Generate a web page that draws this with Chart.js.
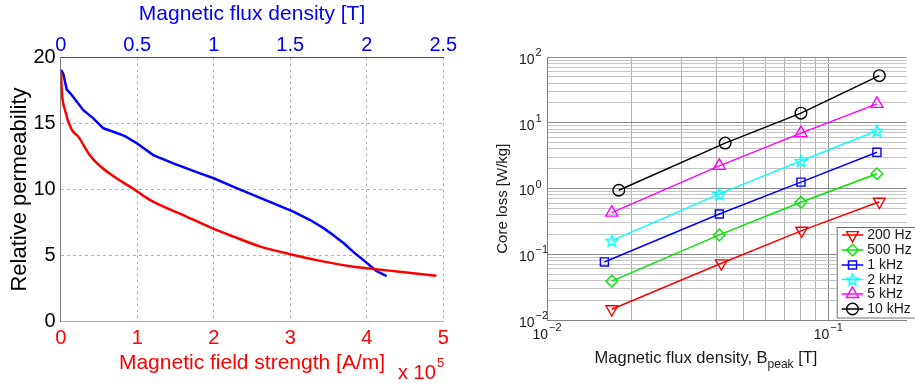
<!DOCTYPE html>
<html>
<head>
<meta charset="utf-8">
<script src="https://cdn.jsdelivr.net/npm/chart.js@4.4.0/dist/chart.umd.min.js"></script>
<style>
  html, body { margin: 0; padding: 0; background: #fff; }
  #wrap { position: relative; width: 915px; height: 384px; overflow: hidden; }
  #permChart { position: absolute; left: 0; top: 0; }
  #lossChart { position: absolute; left: 460px; top: 0; }
</style>
</head>
<body>
<div id="wrap">
  <canvas id="permChart" width="460" height="384"></canvas>
  <canvas id="lossChart" width="455" height="384"></canvas>
</div>
<script>
// ---- left plot: relative permeability vs H (bottom axis, x1e5) and vs B (top axis)
const fieldStrength = [0.004, 0.013, 0.057, 0.14, 0.23, 0.38, 0.51, 0.69, 0.95, 1.17, 1.6, 2.0, 2.26, 2.6, 3.0, 3.39, 3.78, 4.0, 4.43, 4.91];
const permVsField = [18.9, 17.55, 16.0, 14.57, 14.0, 12.6, 11.8, 11.0, 10.05, 9.2, 8.07, 7.02, 6.43, 5.7, 5.1, 4.6, 4.2, 4.05, 3.78, 3.48];

const fluxDensity = [0.002, 0.017, 0.039, 0.072, 0.148, 0.213, 0.279, 0.344, 0.42, 0.497, 0.605, 0.736, 0.823, 0.91, 1.0, 1.13, 1.26, 1.39, 1.52, 1.63, 1.72, 1.78, 1.85, 1.91, 2.0, 2.06, 2.13];
const permVsFlux = [19.05, 18.74, 17.58, 17.15, 16.0, 15.38, 14.63, 14.37, 14.04, 13.5, 12.6, 11.97, 11.6, 11.22, 10.85, 10.2, 9.58, 8.95, 8.32, 7.69, 7.06, 6.56, 5.93, 5.30, 4.45, 3.85, 3.45];

// ---- right plot: core loss vs peak flux density, one series per frequency
const freqLabels = ['200 Hz', '500 Hz', '1 kHz', '2 kHz', '5 kHz', '10 kHz'];
const bPeak200 = [0.0170, 0.0417, 0.0805, 0.1520];
const bPeakMid = [0.0170, 0.0410, 0.0800, 0.1490];
const bPeak1k = [0.0160, 0.0410, 0.0800, 0.1490];
const bPeak10k = [0.0180, 0.0430, 0.0800, 0.1520];
const loss200 = [0.0146, 0.073, 0.229, 0.63];
const loss500 = [0.039, 0.197, 0.618, 1.68];
const loss1k = [0.0764, 0.41, 1.25, 3.55];
const loss2k = [0.161, 0.83, 2.63, 7.55];
const loss5k = [0.43, 2.21, 6.95, 19.4];
const loss10k = [0.94, 4.9, 14.0, 52];

// log axis tick marks
const yDecades = [-2, -1, 0, 1, 2];
const xDecades = [-2, -1];
const mantissas = [1, 2, 3, 4, 5, 6, 7, 8, 9];

Chart.defaults.font.family = "'Liberation Sans', Arial, sans-serif";

const clear = 'rgba(0,0,0,0)';

// draws the "x 10^5" multiplier under the bottom axis
const timesTen = {
    id: 'timesTen',
    afterDraw(chart) {
        const ctx = chart.ctx;
        ctx.save();
        ctx.fillStyle = '#ff0000';
        ctx.textBaseline = 'alphabetic';
        ctx.font = "20px 'Liberation Sans', Arial, sans-serif";
        ctx.fillText('x 10', 398, 379);
        ctx.font = "13px 'Liberation Sans', Arial, sans-serif";
        ctx.fillText('5', 437, 367);
        ctx.restore();
    }
};

new Chart(document.getElementById('permChart'), {
    type: 'line',
    data: {
        datasets: [
            {
                label: 'vs H',
                data: fieldStrength.map((x, i) => ({ x: x, y: permVsField[i] })),
                xAxisID: 'x',
                yAxisID: 'y',
                borderColor: '#ff0000',
                borderWidth: 2.5,
                pointRadius: 0,
                cubicInterpolationMode: 'monotone'
            },
            {
                label: 'vs B',
                data: fluxDensity.map((x, i) => ({ x: x, y: permVsFlux[i] })),
                xAxisID: 'x2',
                yAxisID: 'y',
                borderColor: '#0000ff',
                borderWidth: 2.5,
                pointRadius: 0,
                tension: 0
            }
        ]
    },
    options: {
        responsive: false,
        animation: false,
        layout: { padding: { left: 0, right: 16.7, top: 0, bottom: 0 } },
        plugins: { legend: { display: false }, tooltip: { enabled: false } },
        scales: {
            x: {
                type: 'linear',
                position: 'bottom',
                min: 0,
                max: 5,
                ticks: { stepSize: 1, color: '#ff0000', font: { size: 20 }, padding: 5, callback: v => String(v) },
                grid: { drawTicks: false, color: c => c.tick.value === 0 ? clear : '#b4b4b4' },
                border: { color: 'rgba(255,0,0,0.45)', dash: [3, 3] },
                title: {
                    display: true,
                    text: 'Magnetic field strength [A/m]',
                    color: '#ff0000',
                    font: { size: 21 },
                    padding: { top: 0, bottom: 8 }
                },
                afterFit: s => { s.height = 62.3; }
            },
            x2: {
                type: 'linear',
                position: 'top',
                min: 0,
                max: 2.5,
                ticks: { stepSize: 0.5, color: '#0000ff', font: { size: 20 }, padding: 0, callback: v => String(v) },
                grid: { display: false, drawTicks: false },
                border: { color: '#3333ff' },
                title: {
                    display: true,
                    text: 'Magnetic flux density [T]',
                    color: '#0000ff',
                    font: { size: 21 },
                    padding: { top: 2, bottom: 0 }
                },
                afterFit: s => { s.height = 57.3; }
            },
            y: {
                min: 0,
                max: 20,
                ticks: { stepSize: 5, color: '#000', font: { size: 20 }, padding: 5 },
                grid: { drawTicks: false, color: c => (c.tick.value === 0 || c.tick.value === 20) ? clear : '#b4b4b4' },
                border: { color: '#808080', dash: [3, 3] },
                title: {
                    display: true,
                    text: 'Relative permeability',
                    color: '#000',
                    font: { size: 22 },
                    padding: { top: 7, bottom: 0 }
                },
                afterFit: s => { s.width = 60.7; }
            }
        }
    },
    plugins: [timesTen]
});

// ---- right plot helpers
const isDecade = v => Math.abs(Math.log10(v) - Math.round(Math.log10(v))) < 1e-9;

function logTicks(decades, max) {
    const out = [];
    decades.forEach(e => {
        mantissas.forEach(m => {
            const v = Number((m * Math.pow(10, e)).toPrecision(6));
            if (v <= max + 1e-12) out.push({ value: v });
        });
    });
    return out;
}

// open pentagram marker like the matlab one
function makeStar(color) {
    const c = document.createElement('canvas');
    c.width = 14;
    c.height = 14;
    const g = c.getContext('2d');
    g.strokeStyle = color;
    g.lineWidth = 1.4;
    g.beginPath();
    for (let i = 0; i < 10; i++) {
        const r = i % 2 === 0 ? 6.2 : 2.6;
        const a = -Math.PI / 2 + i * Math.PI / 5;
        const px = 7 + r * Math.cos(a);
        const py = 7.6 + r * Math.sin(a);
        if (i === 0) g.moveTo(px, py); else g.lineTo(px, py);
    }
    g.closePath();
    g.stroke();
    return c;
}

const seriesDefs = [
    { xs: bPeak200, ys: loss200, color: '#ff0000', style: 'triangle', rot: 180, r: 6.8 },
    { xs: bPeakMid, ys: loss500, color: '#00e600', style: 'rectRot', rot: 0, r: 5.8 },
    { xs: bPeak1k, ys: loss1k, color: '#0000ff', style: 'rect', rot: 0, r: 5.7 },
    { xs: bPeakMid, ys: loss2k, color: '#00ffff', style: makeStar('#00ffff'), rot: 0, r: 6 },
    { xs: bPeakMid, ys: loss5k, color: '#ff00ff', style: 'triangle', rot: 0, r: 7 },
    { xs: bPeak10k, ys: loss10k, color: '#000000', style: 'circle', rot: 0, r: 5.8 }
];

const lossDatasets = seriesDefs.map((s, k) => ({
    label: freqLabels[k],
    data: s.xs.map((x, i) => ({ x: x, y: s.ys[i] })),
    borderColor: s.color,
    borderWidth: 1.5,
    pointStyle: s.style,
    pointRotation: s.rot,
    pointRadius: s.r,
    pointBorderColor: s.color,
    pointBackgroundColor: clear,
    pointBorderWidth: 1.4,
    tension: 0
}));

function drawPow(ctx, x, y, exp, mode) {
    const big = "14px 'Liberation Sans', Arial, sans-serif";
    const small = "11px 'Liberation Sans', Arial, sans-serif";
    const sup = String(exp).replace('-', '\u2212');
    ctx.textBaseline = 'middle';
    ctx.textAlign = 'left';
    ctx.font = big;
    const w1 = ctx.measureText('10').width;
    ctx.font = small;
    const w2 = ctx.measureText(sup).width;
    let x0, yBase, ySup;
    if (mode === 'y') {
        x0 = x - w1;
        yBase = y + 3;
        ySup = y - 4;
    } else {
        x0 = x - (w1 + w2 + 1) / 2;
        yBase = y + 15;
        ySup = y + 8;
    }
    ctx.font = big;
    ctx.fillText('10', x0, yBase);
    ctx.font = small;
    ctx.fillText(sup, x0 + w1 + 1, ySup);
}

// tick labels with exponents, axis titles and the legend box
const lossDecor = {
    id: 'lossDecor',
    afterDraw(chart) {
        const { ctx, scales } = chart;
        const font = size => size + "px 'Liberation Sans', Arial, sans-serif";
        ctx.save();
        ctx.fillStyle = '#1a1a1a';
        yDecades.forEach(e => drawPow(ctx, 74.5, scales.y.getPixelForValue(Math.pow(10, e)), e, 'y'));
        xDecades.forEach(e => drawPow(ctx, scales.x.getPixelForValue(Math.pow(10, e)), scales.y.bottom, e, 'x'));

        // y title
        ctx.save();
        ctx.translate(42.5, 198.7);
        ctx.rotate(-Math.PI / 2);
        ctx.font = font(15);
        ctx.textAlign = 'center';
        ctx.textBaseline = 'middle';
        ctx.fillText('Core loss [W/kg]', 0, 0);
        ctx.restore();

        // x title with subscript
        ctx.textAlign = 'left';
        ctx.textBaseline = 'alphabetic';
        const partA = 'Magnetic flux density, B';
        const partB = 'peak';
        const partC = ' [T]';
        ctx.font = font(16.5);
        const wA = ctx.measureText(partA).width;
        const wC = ctx.measureText(partC).width;
        ctx.font = font(12);
        const wB = ctx.measureText(partB).width;
        let tx = 246 - (wA + wB + wC) / 2;
        ctx.font = font(16.5);
        ctx.fillText(partA, tx, 363);
        ctx.font = font(12);
        ctx.fillText(partB, tx + wA, 368);
        ctx.font = font(16.5);
        ctx.fillText(partC, tx + wA + wB, 363);

        // legend
        const boxL = 376.7, boxT = 227, boxB = 317.5;
        ctx.fillStyle = '#ffffff';
        ctx.fillRect(boxL, boxT, 460 - boxL, boxB - boxT);
        ctx.strokeStyle = '#707070';
        ctx.lineWidth = 1;
        ctx.strokeRect(boxL + 0.5, boxT + 0.5, 470 - boxL, boxB - boxT);
        const rowY = [235, 250, 265, 279.5, 294, 309];
        seriesDefs.forEach((s, k) => {
            const y = rowY[k];
            ctx.strokeStyle = s.color;
            ctx.lineWidth = 1.5;
            ctx.beginPath();
            ctx.moveTo(381.7, y);
            ctx.lineTo(403.3, y);
            ctx.stroke();
            if (Chart.helpers && Chart.helpers.drawPoint) {
                ctx.fillStyle = clear;
                ctx.lineWidth = 1.4;
                Chart.helpers.drawPoint(ctx, { pointStyle: s.style, rotation: s.rot, radius: s.r, borderWidth: 1.4 }, 392.5, y);
            }
            ctx.fillStyle = '#1a1a1a';
            ctx.font = font(14);
            ctx.textBaseline = 'middle';
            ctx.fillText(freqLabels[k], 407.3, y + 0.5);
        });
        ctx.restore();
    }
};

new Chart(document.getElementById('lossChart'), {
    type: 'line',
    data: { datasets: lossDatasets },
    options: {
        responsive: false,
        animation: false,
        layout: { padding: { left: 0, right: 0, top: 57, bottom: 0 } },
        plugins: { legend: { display: false }, tooltip: { enabled: false } },
        scales: {
            x: {
                type: 'logarithmic',
                position: 'bottom',
                min: 0.01,
                max: 0.19,
                ticks: { display: false },
                afterBuildTicks: s => { s.ticks = logTicks(xDecades, 0.19); },
                grid: { drawTicks: false, color: c => isDecade(c.tick.value) ? '#8c8c8c' : '#b0b0b0' },
                border: { color: '#808080' },
                afterFit: s => { s.height = 64; }
            },
            y: {
                type: 'logarithmic',
                min: 0.01,
                max: 100,
                ticks: { display: false },
                afterBuildTicks: s => { s.ticks = logTicks(yDecades, 100); },
                grid: { drawTicks: false, color: c => isDecade(c.tick.value) ? '#8c8c8c' : '#c4c4c4' },
                border: { color: '#808080' },
                afterFit: s => { s.width = 87; }
            }
        }
    },
    plugins: [lossDecor]
});
</script>
</body>
</html>
